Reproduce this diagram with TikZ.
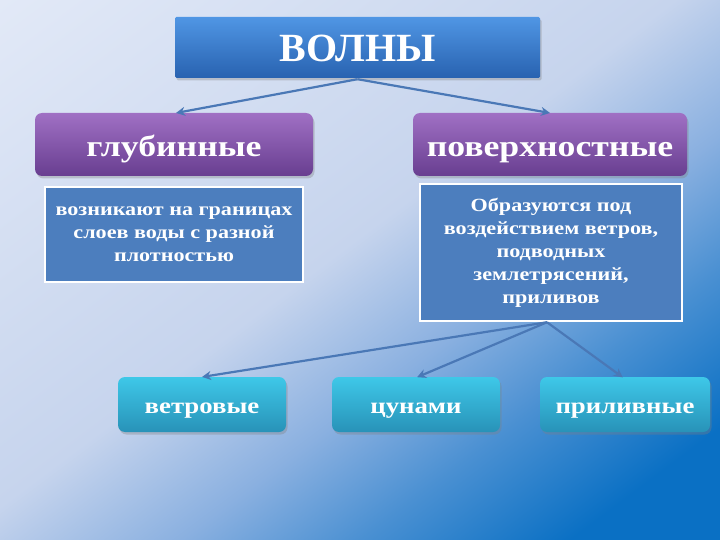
\documentclass[tikz,border=0pt]{standalone}
\usepackage{fontspec}
\setmainfont{Liberation Serif}[FakeStretch=1.19]
\newfontfamily\titlefont{Liberation Serif}
\usetikzlibrary{shadows,arrows.meta}
\definecolor{bgA}{RGB}{226,233,247}
\definecolor{bgB}{RGB}{198,212,237}
\definecolor{bgC}{RGB}{138,176,224}
\definecolor{bgD}{RGB}{74,144,210}
\definecolor{bgE}{RGB}{10,112,196}
\pgfdeclarehorizontalshading{bgsh}{100bp}{color(0bp)=(bgA); color(26bp)=(bgA); color(48.5bp)=(bgB); color(56bp)=(bgC); color(62bp)=(bgD); color(69bp)=(bgE); color(100bp)=(bgE)}
\definecolor{arr}{RGB}{74,120,182}
\tikzset{
  btn/.style={rounded corners=7pt, draw=none, text=white,
    drop shadow={shadow xshift=1.5pt, shadow yshift=-2.5pt, opacity=0.35}},
  titlebox/.style={btn, rounded corners=1.5pt, top color={rgb,255:red,80;green,150;blue,228}, bottom color={rgb,255:red,40;green,98;blue,176},
    font=\titlefont\fontsize{40}{44}\selectfont\bfseries, text height=29pt, text depth=0pt},
  purplebox/.style={btn, top color={rgb,255:red,160;green,112;blue,196}, bottom color={rgb,255:red,104;green,62;blue,144},
    font=\fontsize{30}{33}\selectfont\bfseries, text height=25pt, text depth=0pt, minimum height=63pt},
  tealbox/.style={btn, top color={rgb,255:red,62;green,200;blue,232}, bottom color={rgb,255:red,40;green,146;blue,184},
    font=\fontsize{22.5}{26}\selectfont\bfseries, text height=18pt, text depth=0pt, minimum height=55pt},
  descbox/.style={fill={rgb,255:red,76;green,126;blue,190}, draw=white, line width=2.5pt, text=white,
    font=\fontsize{18.6}{23}\selectfont\bfseries, align=center},
  conn/.style={draw=arr, line width=2.2pt, -{Stealth[length=9pt,width=9pt]}, shorten >=-1pt}
}
\begin{document}
\begin{tikzpicture}[x=1pt,y=-1pt]
\useasboundingbox (0,0) rectangle (720,540);
\begin{scope}
  \clip (0,0) rectangle (720,540);
  \begin{scope}[transform canvas={rotate=-53.13}]
    \shade[shading=bgsh] (-18,-576) rectangle (882,324);
  \end{scope}
\end{scope}
% top
\node[titlebox, minimum width=365pt, minimum height=61pt] (volny) at (357.5,47.5) {ВОЛНЫ};
\node[purplebox, minimum width=278pt] (glub) at (174,144.5) {глубинные};
\node[purplebox, minimum width=274pt] (pov) at (550,144.5) {поверхностные};
% descriptions
\node[descbox, minimum width=258pt, minimum height=95pt] (dleft) at (174,234.5) {возникают на границах\\слоев воды с разной\\плотностью};
\node[descbox, minimum width=262pt, minimum height=137pt] (dright) at (551,252.5) {Образуются под\\воздействием ветров,\\подводных\\землетрясений,\\приливов};
% bottom
\node[tealbox, minimum width=168pt] (vetr) at (202,404.5) {ветровые};
\node[tealbox, minimum width=168pt] (tsun) at (416,404.5) {цунами};
\node[tealbox, minimum width=170pt] (pril) at (625,404.5) {приливные};
% connectors
\coordinate (vb) at ([yshift=-1pt]volny.south);
\draw[conn] (vb) -- ([xshift=3pt]glub.north);
\draw[conn] (vb) -- ([xshift=-1pt]pov.north);
\coordinate (db) at ([xshift=-4pt]dright.south);
\draw[conn] (db) -- ([xshift=1pt]vetr.north);
\draw[conn] (db) -- ([xshift=2pt]tsun.north);
\draw[conn] (db) -- ([xshift=-3pt]pril.north);
\end{tikzpicture}
\end{document}
